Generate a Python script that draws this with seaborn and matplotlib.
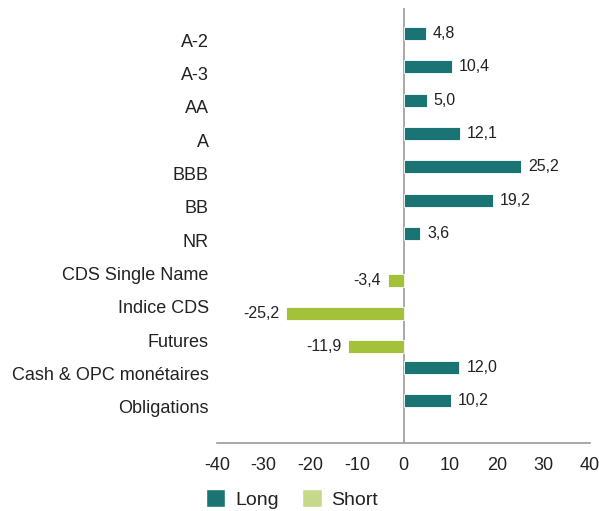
import numpy as np
import pandas as pd
import seaborn as sns
import matplotlib.pyplot as plt
from matplotlib.patches import Patch

categories = ["A-2", "A-3", "AA", "A", "BBB", "BB", "NR",
              "CDS Single Name", "Indice CDS", "Futures",
              "Cash & OPC monétaires", "Obligations"]
long_cats = ["A-2", "A-3", "AA", "A", "BBB", "BB", "NR",
             "Cash & OPC monétaires", "Obligations"]
long_vals = [4.8, 10.4, 5.0, 12.1, 25.2, 19.2, 3.6, 12.0, 10.2]
short_cats = ["CDS Single Name", "Indice CDS", "Futures"]
short_vals = [-3.4, -25.2, -11.9]
x_ticks = [-40, -30, -20, -10, 0, 10, 20, 30, 40]

long_color = "#1a7474"
short_color = "#a3c23a"

df = pd.concat([
    pd.DataFrame({"cat": long_cats, "val": long_vals, "type": "Long"}),
    pd.DataFrame({"cat": short_cats, "val": short_vals, "type": "Short"}),
])

sns.set_style("white")
plt.rcParams["font.family"] = ["Liberation Sans", "DejaVu Sans"]

fig = plt.figure(figsize=(5.99, 5.11), dpi=100)
ax = fig.add_axes([217 / 599, (511 - 443) / 511, (590 - 217) / 599, (443 - 8) / 511])

sns.barplot(data=df, x="val", y="cat", hue="type", order=categories,
            hue_order=["Long", "Short"], palette=[long_color, short_color],
            orient="h", width=0.78, dodge=True, saturation=1, ax=ax, legend=False,
            edgecolor="white", linewidth=0.6)

for cont in ax.containers:
    labels = [f"{v:.1f}".replace(".", ",") if not np.isnan(v) else "" for v in cont.datavalues]
    ax.bar_label(cont, labels=labels, padding=5, fontsize=11.5, color="#222222")

ax.set_xlim(-40, 40)
ax.set_ylim(12.08, -0.96)
ax.set_xticks(x_ticks)
ax.set_xticklabels([str(t) for t in x_ticks])
ax.axvline(0, color="#999999", lw=1.2, zorder=0)
ax.set_xlabel("")
ax.set_ylabel("")

for s in ["top", "right", "left"]:
    ax.spines[s].set_visible(False)
ax.spines["bottom"].set_color("#999999")
ax.spines["bottom"].set_linewidth(1.2)
ax.tick_params(axis="x", direction="out", length=4, width=1, color="#999999",
               labelsize=13, labelcolor="#222222", pad=6)
ax.tick_params(axis="y", length=0, labelsize=13, labelcolor="#222222", pad=6)

handles = [Patch(facecolor=long_color, label="Long"),
           Patch(facecolor="#c6d98a", label="Short")]
fig.legend(handles=handles, loc="center", bbox_to_anchor=(292 / 599, 1 - 499 / 511),
           ncol=2, frameon=False, fontsize=14, handlelength=1.0, handleheight=1.0,
           handletextpad=0.5, columnspacing=1.2, labelcolor="#222222")

fig.savefig("out.png", dpi=100)
